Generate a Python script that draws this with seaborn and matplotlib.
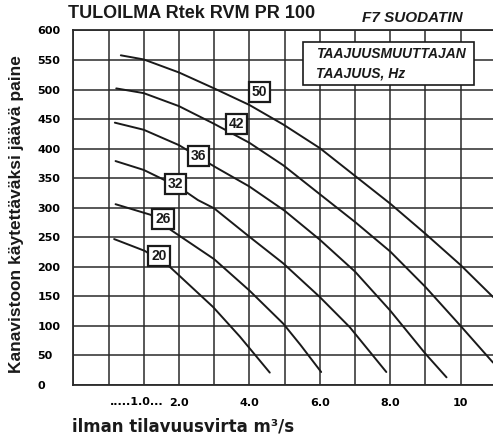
import matplotlib
matplotlib.use("Agg")
import matplotlib.pyplot as plt
from matplotlib.patches import Rectangle
import seaborn as sns
import pandas as pd

# ---------------- data ----------------
freq_labels = ["20", "26", "32", "36", "42", "50"]

flow_20 = [0.16, 1.03, 1.74, 2.97, 3.73, 4.58]
pres_20 = [247, 227, 200, 132, 82, 21]

flow_26 = [0.2, 1.2, 1.78, 3.0, 4.0, 4.96, 5.45, 6.04]
pres_26 = [306, 288, 262, 213, 160, 104, 68, 22]

flow_32 = [0.2, 1.0, 2.0, 2.54, 3.0, 4.0, 4.96, 6.0, 6.85, 7.89]
pres_32 = [379, 364, 335, 313, 299, 251, 206, 149, 98, 22]

flow_36 = [0.18, 1.0, 2.0, 3.0, 4.0, 5.0, 6.0, 7.0, 8.0, 9.0, 9.6]
pres_36 = [444, 432, 406, 370, 336, 295, 246, 192, 126, 53, 13]

flow_42 = [0.22, 1.0, 2.0, 3.0, 4.0, 4.96, 6.0, 7.0, 8.0, 9.0, 10.0, 10.92]
pres_42 = [502, 494, 472, 442, 410, 372, 323, 276, 226, 166, 100, 38]

flow_50 = [0.35, 1.0, 2.0, 3.0, 4.0, 4.96, 6.0, 7.0, 8.0, 9.0, 10.0, 10.92]
pres_50 = [558, 551, 529, 502, 474, 441, 401, 354, 307, 256, 203, 149]

label_x = [1.44, 1.55, 1.90, 2.56, 3.64, 4.29]
label_y = [218, 281, 340, 387, 441, 496]

y_ticks = [0, 50, 100, 150, 200, 250, 300, 350, 400, 450, 500, 550, 600]
x_tick_pos = [2, 4, 6, 8, 10]
x_tick_labels = ["2.0", "4.0", "6.0", "8.0", "10"]
first_x_label = ".....1.0..."

title = "TULOILMA Rtek RVM PR 100"
subtitle = "F7 SUODATIN"
legend_lines = ["TAAJUUSMUUTTAJAN", "TAAJUUS, Hz"]
y_label = "Kanavistoon käytettäväksi jäävä paine"
x_label = "ilman tilavuusvirta m³/s"

# ---------------- build table ----------------
flows = [flow_20, flow_26, flow_32, flow_36, flow_42, flow_50]
press = [pres_20, pres_26, pres_32, pres_36, pres_42, pres_50]
rows = []
for f, xs, ys in zip(freq_labels, flows, press):
    for i, (xv, yv) in enumerate(zip(xs, ys)):
        rows.append({"freq": f, "order": i, "flow": xv, "pressure": yv})
df = pd.DataFrame(rows)

# ---------------- figure ----------------
sns.set_theme(style="white")
plt.rcParams['font.family'] = ['Liberation Sans', 'DejaVu Sans']

fig = plt.figure(figsize=(4.93, 4.36), dpi=100)
ax = fig.add_axes([73.3 / 493, (436 - 385) / 436, (493 - 73.3) / 493, (385 - 30.5) / 436])

grid_c = "#2a2a2a"
ax.set_xlim(-1, 10.92)
ax.set_ylim(0, 600)
ax.set_xticks(list(range(-1, 11)))
ax.set_xticklabels(["" if t not in x_tick_pos else x_tick_labels[x_tick_pos.index(t)]
                    for t in range(-1, 11)])
ax.set_yticks(y_ticks)
ax.set_yticklabels([str(v) for v in y_ticks], ha="left")
ax.grid(True, color=grid_c, lw=1.1)
ax.set_axisbelow(True)
for s in ["left", "top", "bottom"]:
    ax.spines[s].set_color(grid_c)
    ax.spines[s].set_linewidth(1.3)
ax.spines["right"].set_visible(False)

ax.tick_params(axis="y", length=0, pad=26, labelsize=8, labelcolor="black")
ax.tick_params(axis="x", length=0, pad=9, labelsize=8, labelcolor="black")
for lab in ax.get_yticklabels() + ax.get_xticklabels():
    lab.set_fontfamily("DejaVu Sans")
    lab.set_fontweight("bold")

sns.lineplot(data=df, x="flow", y="pressure", hue="freq", units="freq",
             estimator=None, sort=False, palette=["#1a1a1a"] * len(freq_labels),
             linewidth=1.4, legend=False, ax=ax, zorder=3)
ax.set_xlabel("")
ax.set_ylabel("")

# odd first x label
ax.text(0.81, -0.035, first_x_label, transform=ax.get_xaxis_transform(),
        ha="center", va="top", fontsize=8, fontweight="bold", family="DejaVu Sans",
        color="black")

# curve labels
for s, xv, yv in zip(freq_labels, label_x, label_y):
    ax.text(xv, yv, s, ha="center", va="center", fontsize=10, fontweight="bold",
            color="#1a1a1a", zorder=6,
            bbox=dict(boxstyle="square,pad=0.22", fc="white", ec="#1a1a1a", lw=1.6))

# titles
fig.text(68 / 493, 1 - 14 / 436, title, ha="left", va="center",
         fontsize=13, fontweight="bold", color="#1a1a1a")
fig.text(412 / 493, 1 - 18.5 / 436, subtitle, ha="center", va="center",
         fontsize=11, fontweight="bold", style="italic", color="#1a1a1a")

# legend box
fig.add_artist(Rectangle((303 / 493, 1 - 85 / 436), 171 / 493, 43 / 436,
                         transform=fig.transFigure, fc="white", ec="#1a1a1a",
                         lw=1.2, zorder=5))
fig.text(316 / 493, 1 - 54 / 436, legend_lines[0], ha="left", va="center",
         fontsize=10, fontweight="bold", style="italic", color="#1a1a1a", zorder=6)
fig.text(316 / 493, 1 - 73 / 436, legend_lines[1], ha="left", va="center",
         fontsize=10, fontweight="bold", style="italic", color="#1a1a1a", zorder=6)

# axis labels
fig.text(16.5 / 493, 1 - 214 / 436, y_label, rotation=90, ha="center", va="center",
         fontsize=12.5, fontweight="bold", color="#1a1a1a")
fig.text(72 / 493, 1 - 426 / 436, x_label, ha="left", va="center",
         fontsize=12, fontweight="bold", family="DejaVu Sans", color="#1a1a1a")

fig.savefig("out.png", dpi=100)
